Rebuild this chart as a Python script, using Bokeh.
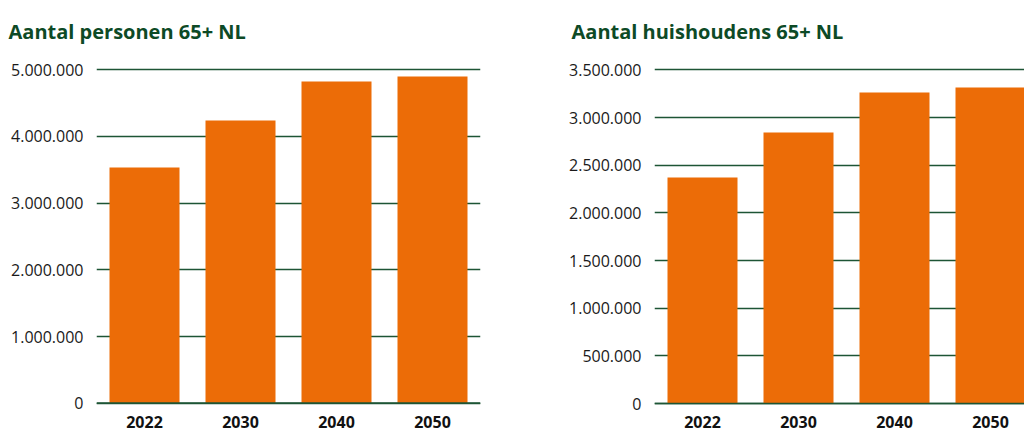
from bokeh.plotting import figure
from bokeh.layouts import row
from bokeh.models import FixedTicker, Span, ColumnDataSource, Range1d
from bokeh.embed import file_html
from bokeh.resources import INLINE

years = ["2022", "2030", "2040", "2050"]
personen = [3535000, 4240000, 4825000, 4900000]
huishoudens = [2371000, 2843000, 3262000, 3314000]

ticks_left = [0, 1000000, 2000000, 3000000, 4000000, 5000000]
labels_left = ["0", "1.000.000", "2.000.000", "3.000.000", "4.000.000", "5.000.000"]
ticks_right = [0, 500000, 1000000, 1500000, 2000000, 2500000, 3000000, 3500000]
labels_right = ["0", "500.000", "1.000.000", "1.500.000", "2.000.000",
                "2.500.000", "3.000.000", "3.500.000"]

GREEN = "#0d4a26"
GRID = "#1d5535"
ORANGE = "#ec6c07"
FONT = "Open Sans"


def make(title, values, ticks, labels, width, bl, br, x_end, y_start, y_end, t_off):
    p = figure(width=width, height=432, output_backend="svg", toolbar_location=None,
               x_range=Range1d(0, x_end), y_range=Range1d(y_start, y_end),
               min_border_left=bl, min_border_right=br,
               min_border_top=60, min_border_bottom=28, title=title)
    p.outline_line_color = None
    p.background_fill_color = "white"
    p.border_fill_color = "white"

    p.title.align = "left"
    p.title.vertical_align = "top"
    p.title.offset = t_off
    p.title.standoff = 28
    p.title.text_font = FONT
    p.title.text_font_size = "20px"
    p.title.text_font_style = "bold"
    p.title.text_color = GREEN

    xs = [i + 0.5 for i in range(len(years))]
    src = ColumnDataSource(dict(x=xs, top=values, year=years))
    p.vbar(x="x", top="top", bottom=0, width=70 / 96, source=src,
           fill_color=ORANGE, line_color=None)

    p.add_layout(Span(location=0, dimension="width", line_color=GRID,
                      line_width=2, level="overlay"))

    p.xgrid.grid_line_color = None
    p.ygrid.ticker = FixedTicker(ticks=ticks)
    p.ygrid.grid_line_color = GRID
    p.ygrid.grid_line_width = 1.3

    ya = p.yaxis[0]
    ya.ticker = FixedTicker(ticks=ticks)
    ya.major_label_overrides = {t: l for t, l in zip(ticks, labels)}
    ya.axis_line_color = None
    ya.major_tick_line_color = None
    ya.minor_tick_line_color = None
    ya.major_label_standoff = 7
    ya.major_label_text_font = FONT
    ya.major_label_text_font_size = "16px"
    ya.major_label_text_color = "#1a1a1a"

    xa = p.xaxis[0]
    xa.ticker = FixedTicker(ticks=xs)
    xa.major_label_overrides = {x: y for x, y in zip(xs, years)}
    xa.axis_line_color = None
    xa.major_tick_line_color = None
    xa.minor_tick_line_color = None
    xa.major_label_standoff = 5
    xa.major_label_text_font = FONT
    xa.major_label_text_font_size = "16px"
    xa.major_label_text_font_style = "bold"
    xa.major_label_text_color = "#111111"
    return p


left = make("Aantal personen 65+ NL", personen, ticks_left, labels_left,
            560, 96, 80, 4.0, -0.018e6, 5.1394e6, -88)
right = make("Aantal huishoudens 65+ NL", huishoudens, ticks_right, labels_right,
             464, 94, 0, 370 / 96, -0.0084e6, 3.5975e6, -83)

layout = row(left, right)
open("out.html", "w").write(file_html(layout, INLINE))
